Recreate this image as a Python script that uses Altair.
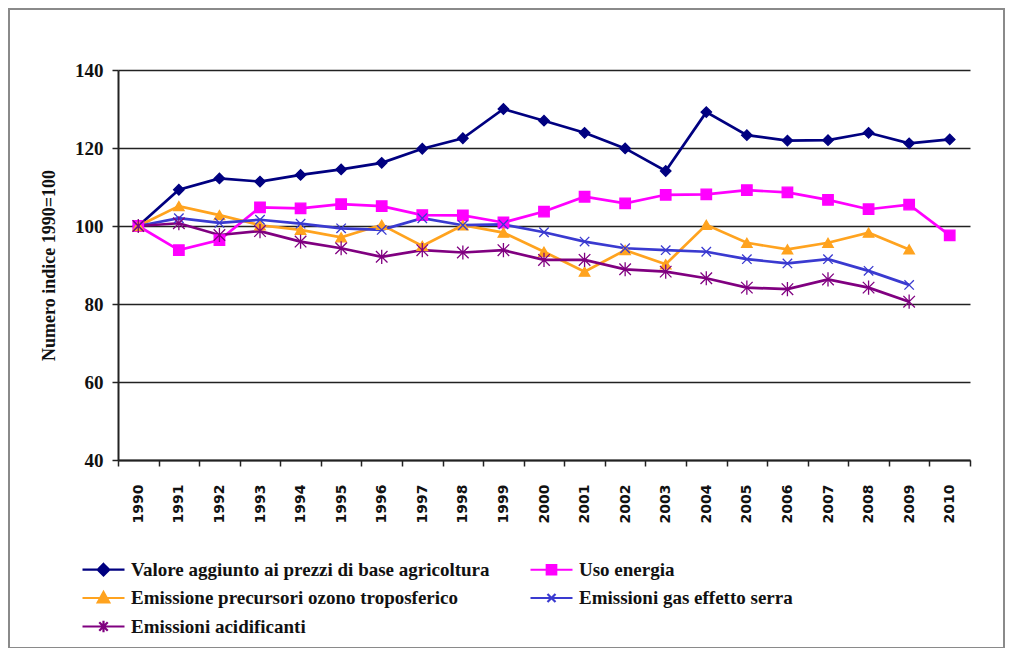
import altair as alt
import pandas as pd

years = [str(y) for y in range(1990, 2011)]

series_names = [
    "Valore aggiunto ai prezzi di base agricoltura",
    "Uso energia",
    "Emissione precursori ozono troposferico",
    "Emissioni gas effetto serra",
    "Emissioni acidificanti",
]

valore = [100, 109.3, 112.2, 111.4, 113.1, 114.5, 116.2, 119.8, 122.5, 130.0, 127.0,
          123.9, 119.9, 114.1, 129.2, 123.3, 121.9, 122.0, 123.9, 121.2, 122.2]
energia = [100, 93.8, 96.4, 104.8, 104.5, 105.6, 105.1, 102.8, 102.7, 100.9, 103.7,
           107.5, 105.8, 108.0, 108.1, 109.2, 108.6, 106.7, 104.3, 105.5, 97.6]
ozono = [100, 105.1, 102.8, 100.2, 99.0, 97.1, 100.3, 94.9, 100.2, 98.3, 93.4,
         88.3, 93.8, 90.2, 100.3, 95.7, 94.0, 95.7, 98.3, 94.0, None]
serra = [100, 102.0, 100.8, 101.6, 100.6, 99.4, 99.0, 102.0, 100.2, 100.4, 98.4,
         96.0, 94.3, 93.8, 93.4, 91.5, 90.4, 91.5, 88.5, 84.9, None]
acidif = [100, 100.7, 97.7, 98.7, 96.0, 94.3, 92.1, 93.8, 93.2, 93.8, 91.3,
          91.3, 88.9, 88.3, 86.6, 84.2, 83.8, 86.3, 84.2, 80.6, None]

colors = ["#000080", "#FF00FF", "#FFA31F", "#3A3AD0", "#800080"]
line_widths = [2.7, 2.7, 2.7, 1.1, 2.7]
point_shapes = [
    "diamond",
    "square",
    "triangle-up",
    "M-0.9,-0.9L0.9,0.9M-0.9,0.9L0.9,-0.9",
    "M-1.1,-1.1L1.1,1.1M-1.1,1.1L1.1,-1.1M0,-1.35L0,1.35",
]
L = "M-4.2,0L4.2,0"
legend_shapes = [
    L + "M0,-1.15L1.15,0L0,1.15L-1.15,0Z",
    L + "M-0.95,-0.95L0.95,-0.95L0.95,0.95L-0.95,0.95Z",
    L + "M0,-1.2L1.15,0.9L-1.15,0.9Z",
    L + "M-0.8,-0.8L0.8,0.8M-0.8,0.8L0.8,-0.8",
    L + "M-0.85,-0.85L0.85,0.85M-0.85,0.85L0.85,-0.85M0,-1.15L0,1.15",
]

rows = []
for name, vals in zip(series_names, [valore, energia, ozono, serra, acidif]):
    for yr, v in zip(years, vals):
        if v is not None:
            rows.append({"year": yr, "value": v, "series": name})
df = pd.DataFrame(rows)

x_enc = alt.X(
    "year:O",
    bandPosition=0.5,
    sort=years,
    scale=alt.Scale(type="band", paddingInner=0, paddingOuter=0),
    axis=alt.Axis(
        title=None, labelAngle=270, labelAlign="right", labelBaseline="middle",
        tickBand="extent", grid=False, domainColor="#222", domainWidth=2,
        tickColor="#222", tickWidth=1.5, tickSize=6,
        labelFont="DejaVu Sans", labelFontWeight="bold", labelFontSize=14,
        labelColor="#111", labelPadding=18,
    ),
)
y_enc = alt.Y(
    "value:Q",
    scale=alt.Scale(domain=[40, 140], nice=False),
    axis=alt.Axis(
        values=[40, 60, 80, 100, 120, 140], title="Numero indice 1990=100",
        grid=True, gridColor="#222", gridWidth=1.5, domainColor="#222", domainWidth=2,
        tickColor="#222", tickWidth=1.5, tickSize=6,
        labelFont="Liberation Serif", labelFontWeight="bold", labelFontSize=19,
        labelColor="#111", labelPadding=9,
        titleFont="Liberation Serif", titleFontWeight="bold", titleFontSize=18,
        titleColor="#111", titlePadding=16,
    ),
)

color_scale = alt.Scale(domain=series_names, range=colors)
base = alt.Chart(df)

lines = base.mark_line().encode(
    x=x_enc, y=y_enc,
    color=alt.Color("series:N", scale=color_scale, legend=None),
    strokeWidth=alt.StrokeWidth("series:N", scale=alt.Scale(domain=series_names, range=line_widths), legend=None),
)

points = base.mark_point(size=110, strokeWidth=1.3, opacity=1).encode(
    x=x_enc, y=y_enc,
    fill=alt.Fill("series:N", scale=color_scale, legend=None),
    stroke=alt.Stroke("series:N", scale=color_scale, legend=None),
    shape=alt.Shape("series:N", scale=alt.Scale(domain=series_names, range=point_shapes), legend=None),
)

leg = alt.Legend(
    title=None, orient="none", legendX=-24, legendY=490, columns=2, direction="horizontal",
    columnPadding=36, rowPadding=7.5, symbolSize=100, symbolStrokeWidth=2.2,
    symbolOpacity=1, labelOffset=18, labelFont="Liberation Serif",
    labelFontWeight="bold", labelFontSize=19, labelColor="#111", labelLimit=600, padding=0,
)
legend_layer = base.mark_point(opacity=0, strokeWidth=2.2).encode(
    x=x_enc, y=y_enc,
    fill=alt.Fill("series:N", scale=color_scale, legend=leg),
    stroke=alt.Stroke("series:N", scale=color_scale, legend=leg),
    shape=alt.Shape("series:N", scale=alt.Scale(domain=series_names, range=legend_shapes), legend=leg),
)

frame = alt.Chart(alt.Data(values=[{"f": 1}])).mark_rect(
    fillOpacity=0, stroke="#8a8a8a", strokeWidth=2
).encode(x=alt.value(-109), x2=alt.value(886), y=alt.value(-61), y2=alt.value(578))

chart = (
    alt.layer(frame, lines, points, legend_layer)
    .resolve_scale(shape="independent", fill="independent", stroke="independent")
    .properties(
        width=852, height=390,
        autosize=alt.AutoSizeParams(type="none"),
        padding={"left": 110, "top": 62, "right": 35, "bottom": 188},
        background="white",
    )
    .configure_view(stroke=None)
)

chart.save("out.html", embed_options={"renderer": "svg", "actions": False})
